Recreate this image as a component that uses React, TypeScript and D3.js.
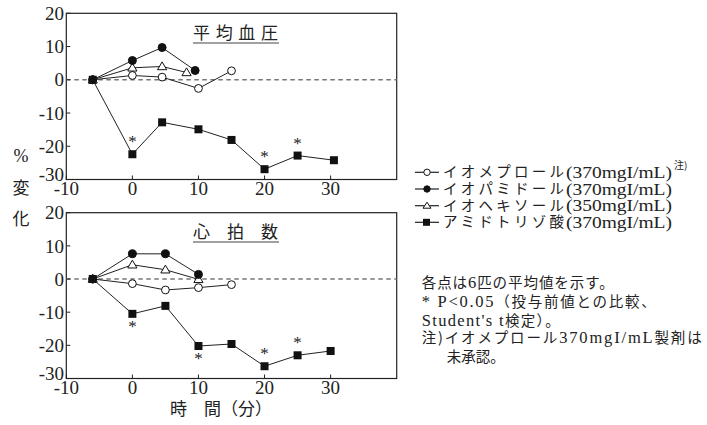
import React from "react";
import * as d3 from "d3";

const xTicks = [-10, 0, 10, 20, 30];
const yTicks = [20, 10, 0, -10, -20, -30];

// 平均血圧 (mean blood pressure) – [time, % change]
const bpIomeprol: [number, number][] = [[-6, 0], [0, 1.3], [4.5, 0.8], [10, -2.6], [15, 2.7]];
const bpIopamidol: [number, number][] = [[-6, 0], [0, 5.8], [4.5, 9.7], [9.5, 2.8]];
const bpIohexol: [number, number][] = [[-6, 0], [0, 3.6], [4.5, 4.0], [8.2, 2.2]];
const bpAmidotrizoate: [number, number][] = [[-6, 0], [0, -22.4], [4.5, -12.8], [10, -14.9], [15, -18.1], [20, -26.9], [25, -22.8], [30.5, -24.2]];
const bpStars: [number, number, string][] = [[0, -22.4, "up"], [20, -26.9, "up"], [25, -22.8, "up"]];

// 心拍数 (heart rate)
const hrIomeprol: [number, number][] = [[-6, 0], [0, -1.4], [5, -3.3], [10, -2.6], [15, -1.7]];
const hrIopamidol: [number, number][] = [[-6, 0], [0, 7.6], [5, 7.6], [10, 1.4]];
const hrIohexol: [number, number][] = [[-6, 0], [0, 4.3], [5, 2.8], [10, -0.1]];
const hrAmidotrizoate: [number, number][] = [[-6, 0], [0, -10.5], [5, -8.1], [10, -20.2], [15, -19.6], [20, -26.3], [25, -23.0], [30, -21.7]];
const hrStars: [number, number, string][] = [[0, -10.5, "down"], [10, -20.2, "down"], [20, -26.3, "up"], [25, -23.0, "up"]];

const legendNames = ["イオメプロール", "イオパミドール", "イオヘキソール", "アミドトリゾ酸"];
const legendConc = ["(370mgI/mL)", "(370mgI/mL)", "(350mgI/mL)", "(370mgI/mL)"];
const noteLines = [
  "各点は6匹の平均値を示す。",
  "* P<0.05（投与前値との比較、",
  "Student's t検定）。",
  "注)イオメプロール370mgI/mL製剤は",
  "未承認。",
];

const SERIF = "'Liberation Serif', 'Times New Roman', 'DejaVu Serif', serif";
const JFONT = "'Noto Sans CJK JP', 'Noto Sans CJK SC', sans-serif";

const x = d3.scaleLinear().domain([-10, 40]).range([66.3, 396.7]);

type Kind = "circleOpen" | "circleFilled" | "triangle" | "square";

function Marker({ kind, cx, cy }: { kind: Kind; cx: number; cy: number }) {
  if (kind === "circleOpen") return <circle cx={cx} cy={cy} r={3.9} fill="#fff" stroke="#111" strokeWidth={1} />;
  if (kind === "circleFilled") return <circle cx={cx} cy={cy} r={4} fill="#111" stroke="#111" strokeWidth={1} />;
  if (kind === "triangle") {
    const s = 4.6;
    return <path d={`M${cx},${cy - s}L${cx + s},${cy + s * 0.7}L${cx - s},${cy + s * 0.7}Z`} fill="#fff" stroke="#111" strokeWidth={1} />;
  }
  return <rect x={cx - 4} y={cy - 4} width={8} height={8} fill="#111" />;
}

function Panel({ y0, y1, title, titleY, series, stars }: {
  y0: number; y1: number; title: string; titleY: number;
  series: { data: [number, number][]; kind: Kind }[];
  stars: [number, number, string][];
}) {
  const y = d3.scaleLinear().domain([-30, 20]).range([y1, y0]);
  const line = d3.line<[number, number]>().x(d => x(d[0])).y(d => y(d[1]));
  const order: Kind[] = ["square", "circleOpen", "triangle", "circleFilled"];
  const sorted = [...series].sort((a, b) => order.indexOf(a.kind) - order.indexOf(b.kind));
  return (
    <g>
      <rect x={x(-10)} y={y0} width={x(40) - x(-10)} height={y1 - y0} fill="none" stroke="#222" strokeWidth={1.2} />
      <line x1={x(-10)} x2={x(40)} y1={y(0)} y2={y(0)} stroke="#777" strokeWidth={1.6} strokeDasharray="4.5,3.5" />
      {yTicks.map(t => (
        <g key={t}>
          <line x1={x(-10)} x2={x(-10) + 4} y1={y(t)} y2={y(t)} stroke="#222" />
          <text x={64} y={y(t) - (t === -30 ? 5.5 : 0)} dy="0.35em" textAnchor="end" fontSize={19} style={{ fontFamily: SERIF }} fill="#222">{t}</text>
        </g>
      ))}
      {xTicks.map(t => (
        <g key={t}>
          <line x1={x(t)} x2={x(t)} y1={y1} y2={y1 - 4} stroke="#222" />
          <text x={x(t)} y={y1 + 9} dy="0.35em" textAnchor="middle" fontSize={19} style={{ fontFamily: SERIF }} fill="#222">{t}</text>
        </g>
      ))}
      <text x={193} y={titleY} textLength={85} lengthAdjust="spacing" fontSize={17} style={{ fontFamily: JFONT }} fill="#222">{title}</text>
      <line x1={193} x2={279} y1={titleY + 4} y2={titleY + 4} stroke="#444" strokeWidth={1.2} />
      {sorted.map((s, i) => (
        <path key={"l" + i} d={line(s.data) || ""} fill="none" stroke="#222" strokeWidth={1} />
      ))}
      {sorted.map((s, i) => (
        <g key={"m" + i}>
          {s.data.map((d, j) => <Marker key={j} kind={s.kind} cx={x(d[0])} cy={y(d[1])} />)}
        </g>
      ))}
      {stars.map((s, i) => (
        <text key={i} x={x(s[0])} y={y(s[1]) + (s[2] === "up" ? -7 : 18)} textAnchor="middle" fontSize={17} style={{ fontFamily: SERIF }} fill="#222">*</text>
      ))}
    </g>
  );
}

const isLatin = (p: string) => /^[A-Za-z0-9*<.'/ ]+$/.test(p);

export default function App() {
  const kinds: Kind[] = ["circleOpen", "circleFilled", "triangle", "square"];
  const legendY = [172.3, 189, 205.7, 222.3];
  const noteY = [283.3, 302.3, 320.7, 338.3, 357.3];
  const noteLen: (number | undefined)[] = [192, 234, 138, 280, undefined];
  return (
    <svg width={707} height={425} style={{ position: "absolute", left: 0, top: 0, background: "#fff" }}>
      <Panel y0={13.3} y1={179.5} title="平均血圧" titleY={39}
        series={[
          { data: bpIomeprol, kind: "circleOpen" },
          { data: bpIopamidol, kind: "circleFilled" },
          { data: bpIohexol, kind: "triangle" },
          { data: bpAmidotrizoate, kind: "square" },
        ]}
        stars={bpStars} />
      <Panel y0={212.7} y1={378.5} title="心拍数" titleY={238}
        series={[
          { data: hrIomeprol, kind: "circleOpen" },
          { data: hrIopamidol, kind: "circleFilled" },
          { data: hrIohexol, kind: "triangle" },
          { data: hrAmidotrizoate, kind: "square" },
        ]}
        stars={hrStars} />
      <text x={21} y={156} dy="0.35em" textAnchor="middle" fontSize={18} style={{ fontFamily: SERIF }} fill="#222">%</text>
      <text x={21} y={188} dy="0.35em" textAnchor="middle" fontSize={17} style={{ fontFamily: JFONT }} fill="#222">変</text>
      <text x={21} y={219} dy="0.35em" textAnchor="middle" fontSize={17} style={{ fontFamily: JFONT }} fill="#222">化</text>
      <text x={170} y={409} dy="0.35em" fontSize={17} style={{ fontFamily: JFONT }} fill="#222">時　間（分）</text>
      {legendNames.map((lab, i) => (
        <g key={i}>
          <line x1={415} x2={439} y1={legendY[i]} y2={legendY[i]} stroke="#222" strokeWidth={1.2} />
          {kinds[i] === "square"
            ? <rect x={423} y={legendY[i] - 3.5} width={7} height={7} fill="#111" />
            : kinds[i] === "triangle"
              ? <path d={`M427,${legendY[i] - 3.5}L431,${legendY[i] + 2.5}L423,${legendY[i] + 2.5}Z`} fill="#fff" stroke="#111" />
              : <circle cx={427} cy={legendY[i]} r={3.2} fill={kinds[i] === "circleFilled" ? "#111" : "#fff"} stroke="#111" />}
          <text x={443} y={legendY[i]} dy="0.35em" textLength={121} lengthAdjust="spacing" fontSize={14.5} style={{ fontFamily: JFONT }} fill="#222">{lab}</text>
          <text x={566} y={legendY[i]} dy="0.35em" textLength={106} lengthAdjust="spacingAndGlyphs" fontSize={16.5} style={{ fontFamily: SERIF }} fill="#222">{legendConc[i]}</text>
          {i === 0 && <text x={674} y={legendY[i] - 3} fontSize={10} style={{ fontFamily: JFONT }} fill="#222">注)</text>}
        </g>
      ))}
      {noteLines.map((t, i) => (
        <text key={i} x={i === 4 ? 446.7 : 421.7} y={noteY[i]} dy="0.35em" textLength={noteLen[i]} lengthAdjust="spacing" fontSize={14.5} style={{ fontFamily: JFONT }} fill="#222">
          {t.split(/([A-Za-z0-9*<.'/ ]+)/).filter(Boolean).map((p, k) => (
            <tspan key={k} style={{ fontFamily: isLatin(p) ? SERIF : JFONT }} fontSize={isLatin(p) ? 16.5 : 14.5}>{p}</tspan>
          ))}
        </text>
      ))}
    </svg>
  );
}
